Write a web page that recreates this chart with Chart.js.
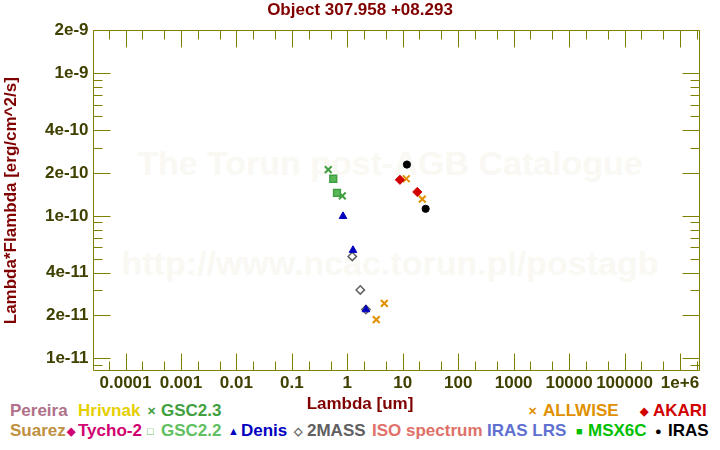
<!DOCTYPE html>
<html>
<head>
<meta charset="utf-8">
<script src="https://cdn.jsdelivr.net/npm/chart.js@4.4.0/dist/chart.umd.min.js"></script>
<style>
  body { margin: 0; background: #fff; }
  #wrap { position: relative; width: 720px; height: 450px; font-family: "Liberation Sans", Arial, sans-serif; font-weight: bold; }
  #wrap canvas { position: absolute; left: 0; top: 0; }
  .wm { position: absolute; left: 390px; transform: translateX(-50%); white-space: nowrap; font-size: 34px; line-height: 34px; color: #faf8f3; }
  .lg { position: absolute; font-size: 17px; line-height: 17px; white-space: nowrap; }
  .sym { position: absolute; font-size: 11px; line-height: 11px; }
</style>
</head>
<body>
<div id="wrap">
  <div class="wm" style="top:146px">The Torun post-AGB Catalogue</div>
  <div class="wm" style="top:246px">http://www.ncac.torun.pl/postagb</div>
  <div id="legend"></div>
  <canvas id="sedChart" width="720" height="450"></canvas>
</div>
<script>
// photometry (wavelength in um, lambda*F_lambda in erg/cm^2/s)
const gsc23Lambda = [0.454, 0.813];
const gsc23Flux = [2.11e-10, 1.38e-10];
const gsc22Lambda = [0.559, 0.652];
const gsc22Flux = [1.82e-10, 1.45e-10];
const denisLambda = [0.837, 1.267, 2.17];
const denisFlux = [9.93e-11, 5.74e-11, 2.20e-11];
const twomassLambda = [1.23, 1.715, 2.17];
const twomassFlux = [5.19e-11, 3.02e-11, 2.20e-11];
const allwiseLambda = [3.33, 4.65, 11.6, 22.5];
const allwiseFlux = [1.87e-11, 2.43e-11, 1.82e-10, 1.31e-10];
const akariLambda = [8.9, 18.3];
const akariFlux = [1.79e-10, 1.47e-10];
const irasLambda = [11.9, 25.9];
const irasFlux = [2.29e-10, 1.12e-10];

// axis ticks
const xTickValues = [1e-4, 1e-3, 1e-2, 0.1, 1, 10, 100, 1000, 1e4, 1e5, 1e6];
const xTickLabels = ['0.0001', '0.001', '0.01', '0.1', '1', '10', '100', '1000', '10000', '100000', '1e+6'];
const yTickValues = [1e-11, 2e-11, 4e-11, 1e-10, 2e-10, 4e-10, 1e-9, 2e-9];
const yTickLabels = ['1e-11', '2e-11', '4e-11', '1e-10', '2e-10', '4e-10', '1e-9', '2e-9'];

const xMin = 2.54e-5, xMax = 2.25e6;
const yMin = 8.15e-12, yMax = 2.0e-9;

const axisColor = '#808000';
const labelColor = '#404000';
const titleColor = '#800000';

// legend row texts under the plot
const legendItems = [
  // [text, color, left, row, symbol, symbolLeft]
  ['Pereira', '#b0708a', 10, 0],
  ['Hrivnak', '#e6cf00', 78, 0],
  ['GSC2.3', '#40a040', 161, 0, '\u2715', 147],
  ['ALLWISE', '#e09000', 543, 0, '\u2715', 528],
  ['AKARI', '#d00000', 653, 0, '\u25C6', 640],
  ['Suarez', '#c09040', 10, 1],
  ['Tycho-2', '#d00070', 78, 1, '\u25C6', 67],
  ['GSC2.2', '#60c060', 161, 1, '\u25A1', 147],
  ['Denis', '#0000c0', 241, 1, '\u25B2', 228],
  ['2MASS', '#606060', 307, 1, '\u25C7', 294],
  ['ISO spectrum', '#e07068', 372, 1],
  ['IRAS LRS', '#6070d0', 487, 1],
  ['MSX6C', '#00c000', 588, 1, '\u25A0', 576],
  ['IRAS', '#000000', 668, 1, '\u25CF', 655]
];

const legendBox = document.getElementById('legend');
legendItems.forEach(([text, color, left, row, sym, symLeft]) => {
  const top = row === 0 ? 402 : 422;
  const t = document.createElement('div');
  t.className = 'lg';
  t.style.cssText = `left:${left}px;top:${top}px;color:${color}`;
  t.textContent = text;
  legendBox.appendChild(t);
  if (sym) {
    const s = document.createElement('div');
    s.className = 'sym';
    s.style.cssText = `left:${symLeft}px;top:${top + 4}px;color:${color}`;
    s.textContent = sym;
    legendBox.appendChild(s);
  }
});

const pts = (xs, ys) => xs.map((v, i) => ({ x: v, y: ys[i] }));
const near = (a, b) => Math.abs(a / b - 1) < 1e-6;
const labelFor = (vals, labels, v) => {
  const i = vals.findIndex(t => near(t, v));
  return i >= 0 ? labels[i] : '';
};

// minor tick positions
const xAllTicks = [];
for (let e = -5; e <= 6; e++) [1, 2, 5].forEach(m => xAllTicks.push(m * Math.pow(10, e)));
const yAllTicks = [];
for (let e = -12; e <= -9; e++) for (let m = 1; m <= 9; m++) yAllTicks.push(m * Math.pow(10, e));

const frameTicks = {
  id: 'frameTicks',
  beforeDatasetsDraw(chart) {
    const { ctx, chartArea: a, scales: { x, y } } = chart;
    const L = Math.round(a.left) + 0.5, R = Math.round(a.right) - 0.5;
    const T = Math.round(a.top) + 0.5, B = Math.round(a.bottom) - 0.5;
    ctx.save();
    ctx.strokeStyle = axisColor;
    ctx.lineWidth = 1;
    ctx.beginPath();
    x.ticks.forEach(t => {
      const px = Math.round(x.getPixelForValue(t.value)) + 0.5;
      const len = xTickValues.some(v => near(v, t.value)) ? 17 : 9;
      ctx.moveTo(px, B); ctx.lineTo(px, B - len);
      ctx.moveTo(px, T); ctx.lineTo(px, T + len);
    });
    y.ticks.forEach(t => {
      const py = Math.round(y.getPixelForValue(t.value)) + 0.5;
      const len = yTickValues.some(v => near(v, t.value)) ? 17 : 9;
      ctx.moveTo(L, py); ctx.lineTo(L + len, py);
      ctx.moveTo(R, py); ctx.lineTo(R - len, py);
    });
    ctx.rect(L, T, R - L, B - T);
    ctx.stroke();
    ctx.restore();
  }
};

Chart.defaults.font.family = '"Liberation Sans", Arial, sans-serif';
Chart.defaults.font.weight = 'bold';
Chart.defaults.font.size = 17;

new Chart(document.getElementById('sedChart'), {
  type: 'scatter',
  data: {
    datasets: [
      { label: 'IRAS', data: pts(irasLambda, irasFlux), pointStyle: 'circle', radius: 3.6,
        backgroundColor: '#000000', borderColor: '#000000', borderWidth: 1 },
      { label: 'AKARI', data: pts(akariLambda, akariFlux), pointStyle: 'rectRot', radius: 4.6,
        backgroundColor: '#d00000', borderColor: '#d00000', borderWidth: 1 },
      { label: 'ALLWISE', data: pts(allwiseLambda, allwiseFlux), pointStyle: 'crossRot', radius: 4.8,
        backgroundColor: '#e09000', borderColor: '#e09000', borderWidth: 2 },
      { label: 'Denis', data: pts(denisLambda, denisFlux), pointStyle: 'triangle', radius: 4.4,
        backgroundColor: '#0000c0', borderColor: '#0000c0', borderWidth: 1 },
      { label: '2MASS', data: pts(twomassLambda, twomassFlux), pointStyle: 'rectRot', radius: 4.2,
        backgroundColor: 'rgba(0,0,0,0)', borderColor: '#606060', borderWidth: 1.5 },
      { label: 'GSC2.2', data: pts(gsc22Lambda, gsc22Flux), pointStyle: 'rect', radius: 4.8,
        backgroundColor: '#58b858', borderColor: '#40a040', borderWidth: 1.5 },
      { label: 'GSC2.3', data: pts(gsc23Lambda, gsc23Flux), pointStyle: 'crossRot', radius: 4.8,
        backgroundColor: '#40a040', borderColor: '#40a040', borderWidth: 2 }
    ]
  },
  options: {
    responsive: false,
    animation: false,
    devicePixelRatio: 1,
    layout: { padding: 0 },
    scales: {
      x: {
        type: 'logarithmic',
        position: 'bottom',
        min: xMin,
        max: xMax,
        afterBuildTicks: s => { s.ticks = xAllTicks.filter(v => v >= xMin && v <= xMax).map(v => ({ value: v })); },
        afterFit: s => { s.height = 23.6; },
        grid: { display: false, drawTicks: false },
        border: { display: false },
        ticks: {
          autoSkip: false, maxRotation: 0, minRotation: 0, padding: 2,
          color: labelColor, font: { size: 17, weight: 'bold' },
          callback: v => labelFor(xTickValues, xTickLabels, v)
        }
      },
      y: {
        type: 'logarithmic',
        position: 'left',
        min: yMin,
        max: yMax,
        afterBuildTicks: s => { s.ticks = yAllTicks.filter(v => v >= yMin && v <= yMax * 1.0001).map(v => ({ value: v })); },
        afterFit: s => { s.width = 92.5; },
        grid: { display: false, drawTicks: false },
        border: { display: false },
        title: {
          display: true, text: 'Lambda*Flambda [erg/cm^2/s]', color: titleColor,
          font: { size: 17, weight: 'bold' }, padding: { top: 1, bottom: 0 }
        },
        ticks: {
          autoSkip: false, padding: 4,
          color: labelColor, font: { size: 17, weight: 'bold' },
          callback: v => labelFor(yTickValues, yTickLabels, v)
        }
      },
      yRight: {
        type: 'linear',
        position: 'right',
        afterFit: s => { s.width = 20.5; },
        grid: { display: false, drawTicks: false },
        border: { display: false },
        ticks: { display: false }
      }
    },
    plugins: {
      legend: { display: false },
      tooltip: { enabled: false },
      title: {
        display: true, text: 'Object 307.958 +08.293', color: titleColor,
        font: { size: 17, weight: 'bold' }, padding: { top: 0, bottom: 10 }
      },
      subtitle: {
        display: true, text: 'Lambda [um]', position: 'bottom', color: titleColor,
        font: { size: 17, weight: 'bold' }, padding: { top: 0, bottom: 35 }
      }
    }
  },
  plugins: [frameTicks]
});
</script>
</body>
</html>
